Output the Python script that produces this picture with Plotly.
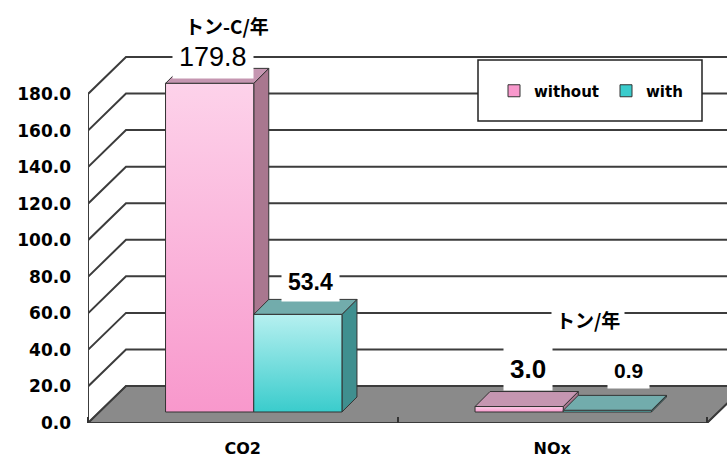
import plotly.graph_objects as go

# ---------------- data ----------------
categories = ["CO2", "NOx"]
series_names = ["without", "with"]
without_values = [179.8, 3.0]
with_values = [53.4, 0.9]
value_labels_without = ["179.8", "3.0"]
value_labels_with = ["53.4", "0.9"]
y_tick_values = [0, 20, 40, 60, 80, 100, 120, 140, 160, 180]
y_tick_labels = ["0.0", "20.0", "40.0", "60.0", "80.0", "100.0", "120.0", "140.0", "160.0", "180.0"]
unit_labels = ["トン-C/年", "トン/年"]

# ---------------- style / geometry ----------------
W, H = 727, 459
ML, MR, MT, MB = 88, 0, 0, 36
PX = 309.5          # px per x unit
PY = 329 / 180      # px per y unit
X0 = -0.5
X1 = X0 + (W - ML - MR) / PX
Y1 = (H - MT - MB) / PY

FDX, FDY = 38 / PX, 37 / PY        # floor / wall depth
BDX0, BDY0 = 11 / PX, 11 / PY      # bar front offset into depth
SDX, SDY = 15 / PX, 15 / PY        # bar depth
BAR_W = 0.285

FONT = "DejaVu Sans"
GRID = "#3c3c3c"

styles = {
    "without": dict(top="#fdd2ea", bottom="#f898cc", side="#a9778f", topface="#c596b1"),
    "with": dict(top="#b6f0f0", bottom="#3acccc", side="#3f8f8f", topface="#72acac"),
}
# pixel nudges for value labels (per series, per category): xshift, yshift, font size, bold
label_nudge = {
    "without": [(3, 26, 27, False), (9, 38, 26, True)],
    "with": [(13, 32, 23, True), (21, 40, 21, True)],
}
unit_pos = [(-0.051, 217.7), (1.1155, 56.4)]

fig = go.Figure()

# floor
last = len(categories) - 0.5
fig.add_trace(go.Scatter(
    x=[X0, last, last + FDX, X1 + 1, X1 + 1, X0 + FDX, X0],
    y=[0, 0, FDY, FDY, FDY, FDY, 0],
    fill="toself", fillcolor="#8a8a8a", mode="lines",
    line=dict(color="#3a3a3a", width=1.5), hoverinfo="skip", showlegend=False))

# grid on back wall + side diagonals
for v in y_tick_values:
    fig.add_trace(go.Scatter(
        x=[X0, X0 + FDX, X1 + 1], y=[v, v + FDY, v + FDY], mode="lines",
        line=dict(color=GRID, width=2), hoverinfo="skip", showlegend=False))
# front vertical axis line
fig.add_trace(go.Scatter(
    x=[X0, X0], y=[0, max(y_tick_values)], mode="lines",
    line=dict(color=GRID, width=2), hoverinfo="skip", showlegend=False))
# floor front edge
fig.add_trace(go.Scatter(
    x=[X0, last, last + FDX * 1.1], y=[0, 0, FDY * 1.1], mode="lines",
    line=dict(color="#3a3a3a", width=2), hoverinfo="skip", showlegend=False))

# base bars (legend + data)
xs_idx = list(range(len(categories)))
for k, (name, vals) in enumerate(zip(series_names, [without_values, with_values])):
    st = styles[name]
    fig.add_trace(go.Bar(
        x=[i + BDX0 for i in xs_idx], y=vals, base=[BDY0] * len(vals),
        width=BAR_W, offset=-BAR_W if k == 0 else 0,
        marker=dict(color=st["bottom"], line=dict(color="#333", width=1)),
        name=name, showlegend=True))

# 3D faces
outline = dict(color="#333333", width=1)
for i in xs_idx:
    for k, (name, vals) in enumerate(zip(series_names, [without_values, with_values])):
        st = styles[name]
        v = vals[i]
        xl = i + BDX0 - BAR_W + k * BAR_W
        xr = xl + BAR_W
        b = BDY0
        t = b + v
        # side
        fig.add_trace(go.Scatter(
            x=[xr, xr + SDX, xr + SDX, xr, xr], y=[b, b + SDY, t + SDY, t, b],
            fill="toself", fillcolor=st["side"], mode="lines", line=outline,
            hoverinfo="skip", showlegend=False))
        # top
        fig.add_trace(go.Scatter(
            x=[xl, xl + SDX, xr + SDX, xr, xl], y=[t, t + SDY, t + SDY, t, t],
            fill="toself", fillcolor=st["topface"], mode="lines", line=outline,
            hoverinfo="skip", showlegend=False))
        # front with gradient
        fig.add_trace(go.Scatter(
            x=[xl, xr, xr, xl, xl], y=[b, b, t, t, b],
            fill="toself", mode="lines", line=outline,
            fillgradient=dict(type="vertical", start=t, stop=b,
                              colorscale=[[0, st["top"]], [1, st["bottom"]]]),
            hoverinfo="skip", showlegend=False))

annotations = []
for i in xs_idx:
    for k, (name, vals, labs) in enumerate(zip(series_names, [without_values, with_values],
                                                [value_labels_without, value_labels_with])):
        xl = i + BDX0 - BAR_W + k * BAR_W
        dx, dy, fs, bold = label_nudge[name][i]
        txt = "<b>" + labs[i] + "</b>" if bold else labs[i]
        annotations.append(dict(
            x=xl + BAR_W / 2, y=BDY0 + vals[i], xref="x", yref="y",
            text=txt, showarrow=False, xshift=dx, yshift=dy,
            font=dict(family="Liberation Sans", size=fs, color="black"),
            bgcolor="white", borderpad=6))
for (ux, uy), txt in zip(unit_pos, unit_labels):
    annotations.append(dict(
        x=ux, y=uy, xref="x", yref="y", text="<b>" + txt + "</b>", showarrow=False,
        font=dict(family="Noto Sans CJK JP", size=19, color="black"),
        bgcolor="white", borderpad=4))

fig.update_layout(
    width=W, height=H,
    margin=dict(l=ML, r=MR, t=MT, b=MB, pad=0, autoexpand=False),
    paper_bgcolor="white", plot_bgcolor="white",
    barmode="overlay",
    showlegend=True,
    legend=dict(orientation="h", x=(494 - ML) / (W - ML), y=1 - 91 / (H - MB),
                xanchor="left", yanchor="middle",
                bgcolor="rgba(0,0,0,0)", borderwidth=0,
                font=dict(family=FONT, size=15, color="black", weight="bold"),
                entrywidth=67, entrywidthmode="pixels", itemclick=False),
    shapes=[dict(type="rect", xref="paper", yref="paper",
                 x0=(478 - ML) / (W - ML), x1=(702 - ML) / (W - ML),
                 y0=1 - 121 / (H - MB), y1=1 - 60 / (H - MB),
                 fillcolor="white", line=dict(color="#222", width=1.5), layer="above")],
    annotations=annotations,
    xaxis=dict(range=[X0, X1], tickmode="array", tickvals=xs_idx, ticktext=categories,
               showgrid=False, zeroline=False, showline=False, ticks="",
               ticklabelstandoff=14,
               tickfont=dict(family=FONT, size=16, color="black", weight="bold"),
               minor=dict(tickmode="array", tickvals=[X0, 0.5, last], ticks="inside",
                          ticklen=6, tickcolor="#333", tickwidth=1.5, showgrid=False),
               fixedrange=True),
    yaxis=dict(range=[0, Y1], tickmode="array", tickvals=y_tick_values, ticktext=y_tick_labels,
               showgrid=False, zeroline=False, showline=False, ticks="",
               ticklabelstandoff=16,
               tickfont=dict(family=FONT, size=17, color="black", weight="bold"),
               fixedrange=True),
    font=dict(family=FONT),
)

fig.write_html("out.html", config={"displayModeBar": False},
               post_script="document.body.style.margin='0';")
